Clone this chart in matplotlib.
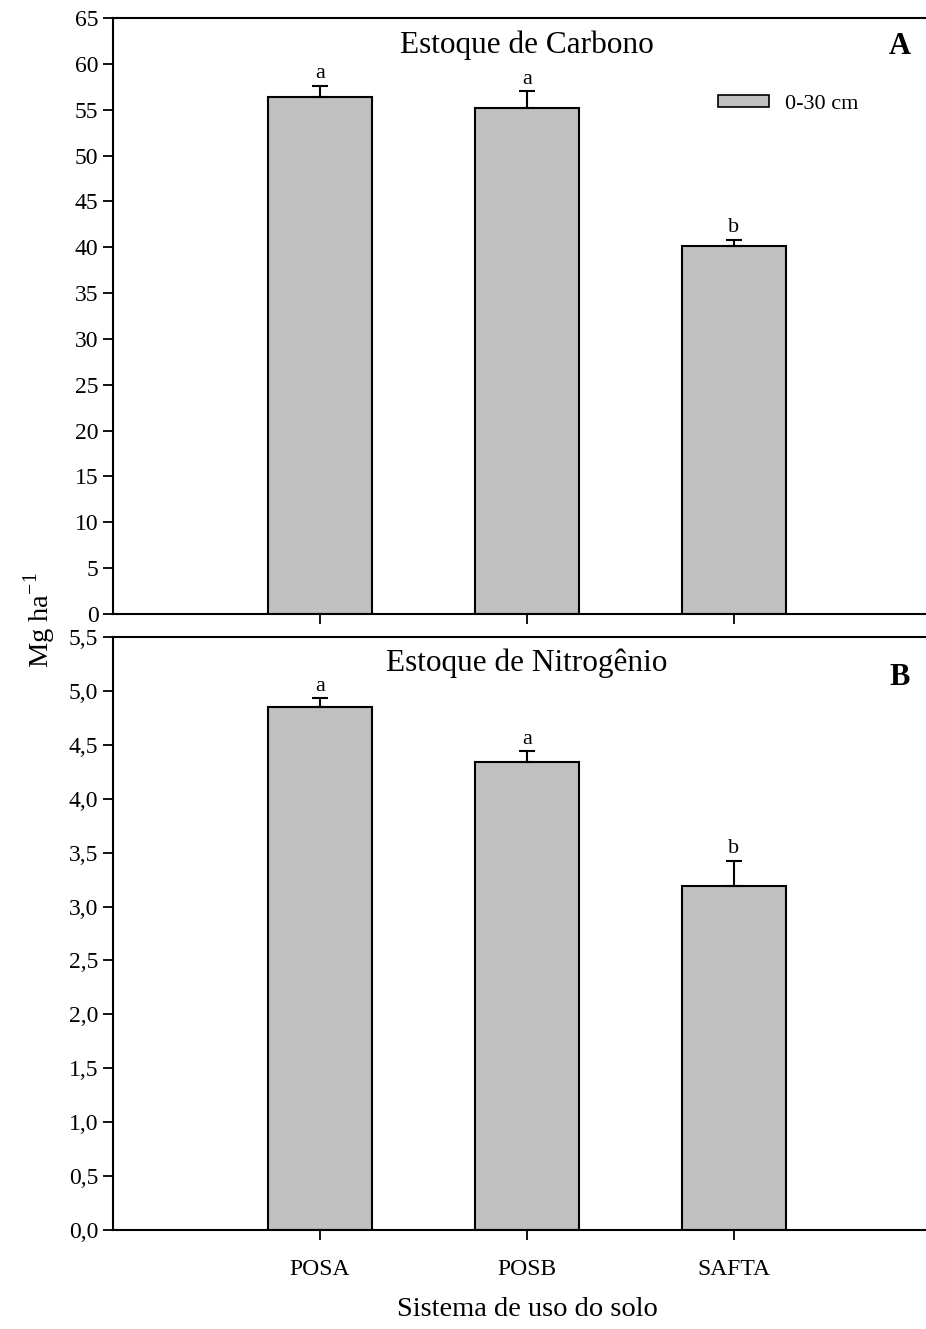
import numpy as np
import matplotlib.pyplot as plt
from matplotlib.ticker import FuncFormatter, MultipleLocator
from matplotlib.patches import Patch

plt.rcParams['font.family'] = ['Liberation Serif', 'DejaVu Serif']

# Sistemas de uso do solo
sistemas = ['POSA', 'POSB', 'SAFTA']

# Estoque de carbono (Mg ha-1), 0-30 cm
carbono = [56.4, 55.2, 40.1]
carbono_err = [1.2, 1.8, 0.7]
carbono_letras = ['a', 'a', 'b']

# Estoque de nitrogenio (Mg ha-1), 0-30 cm
nitrogenio = [4.85, 4.34, 3.19]
nitrogenio_err = [0.08, 0.10, 0.23]
nitrogenio_letras = ['a', 'a', 'b']

cor = '#c0c0c0'
x = np.arange(1, len(sistemas) + 1)

fig = plt.figure(figsize=(9.26, 13.29), dpi=100)
W, H = 926, 1329
ax1 = fig.add_axes([113 / W, 1 - 614 / H, (W - 113) / W, (614 - 18) / H])
ax2 = fig.add_axes([113 / W, 1 - 1230 / H, (W - 113) / W, (1230 - 637) / H])


def painel(ax, vals, errs, letras, ymax, ystep, fmt, titulo, tag, tag_y):
    ax.bar(x, vals, width=0.5, color=cor, edgecolor='black', linewidth=1.5,
           yerr=[np.zeros(len(vals)), errs], capsize=5.8,
           error_kw=dict(elinewidth=1.5, capthick=1.5, ecolor='black'),
           zorder=2)
    for xi, v, e, l in zip(x, vals, errs, letras):
        ax.annotate(l, (xi, v + e), xytext=(0, 2), textcoords='offset points',
                    ha='center', va='bottom', fontsize=16)
    ax.set_xlim(0, (W - 113) / 207)
    ax.set_ylim(0, ymax)
    ax.yaxis.set_major_locator(MultipleLocator(ystep))
    ax.yaxis.set_major_formatter(FuncFormatter(fmt))
    ax.set_xticks(x)
    ax.spines['right'].set_visible(False)
    for s in ['left', 'top', 'bottom']:
        ax.spines[s].set_linewidth(1.5)
    ax.tick_params(direction='out', length=7, width=1.3, labelsize=17)
    ax.text(2, 0.955, titulo, transform=ax.get_xaxis_transform(),
            ha='center', va='center', fontsize=22.5)
    ax.text(0.968, tag_y, tag, transform=ax.transAxes, ha='center',
            va='center', fontsize=22, fontweight='bold')


painel(ax1, carbono, carbono_err, carbono_letras, 65, 5,
       lambda v, p: f'{v:.0f}', 'Estoque de Carbono', 'A', 0.952)
painel(ax2, nitrogenio, nitrogenio_err, nitrogenio_letras, 5.5, 0.5,
       lambda v, p: f'{v:.1f}'.replace('.', ','), 'Estoque de Nitrogênio',
       'B', 0.932)

ax1.set_xticklabels([])
ax2.set_xticklabels(sistemas)
ax2.tick_params(axis='x', pad=14)

ax1.legend(handles=[Patch(facecolor=cor, edgecolor='black', linewidth=1.2,
                          label='0-30 cm')],
           loc='upper left', bbox_to_anchor=(0.72, 0.905), frameon=False,
           fontsize=16, handlelength=2.3, handleheight=0.5, handletextpad=0.7)

fig.text(40 / W, 1 - 620 / H, 'Mg ha$^{\\mathregular{-1}}$', rotation=90,
         ha='center', va='center', fontsize=20.5)
fig.text(527 / W, 1 - 1310 / H, 'Sistema de uso do solo', ha='center',
         va='center', fontsize=20.5)

fig.savefig('out.png', dpi=100)
